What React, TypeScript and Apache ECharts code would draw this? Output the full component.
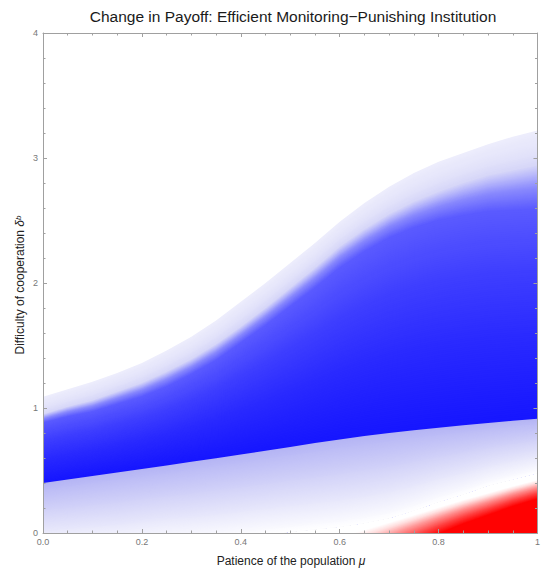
import React, { useEffect, useRef } from "react";
import * as echarts from "echarts";

// Sample positions along the patience axis (mu)
const MU = [0, 0.05, 0.1, 0.15, 0.2, 0.25, 0.3, 0.35, 0.4, 0.45, 0.5, 0.55, 0.6, 0.65, 0.7, 0.75, 0.8, 0.85, 0.9, 0.95, 1];
// Upper (sharp) edge of the blue region
const UPPER_EDGE = [1.09, 1.15, 1.21, 1.28, 1.36, 1.46, 1.57, 1.7, 1.85, 2.0, 2.16, 2.32, 2.49, 2.64, 2.77, 2.88, 2.97, 3.04, 3.11, 3.17, 3.22];
// End of the pale lavender fringe
const PALE_END = [0.95, 1.01, 1.06, 1.13, 1.2, 1.29, 1.39, 1.51, 1.65, 1.8, 1.96, 2.12, 2.29, 2.43, 2.55, 2.65, 2.73, 2.8, 2.86, 2.9, 2.94];
// Where the colour has reached medium blue below the fringe
const MID_BLUE = [0.88, 0.93, 0.97, 1.03, 1.09, 1.17, 1.27, 1.38, 1.52, 1.66, 1.81, 1.96, 2.12, 2.25, 2.36, 2.44, 2.5, 2.54, 2.57, 2.58, 2.59];
// Lower (sharp) edge of the saturated blue band
const DARK_EDGE = [0.4, 0.428, 0.456, 0.484, 0.512, 0.541, 0.57, 0.599, 0.628, 0.658, 0.689, 0.72, 0.749, 0.776, 0.8, 0.822, 0.843, 0.862, 0.88, 0.898, 0.915];
// Where the light blue below the band has faded to white
const FADE_END = [-0.15, -0.14, -0.13, -0.12, -0.1, -0.08, -0.07, -0.05, -0.03, -0.01, 0.01, 0.03, 0.05, 0.08, 0.12, 0.18, 0.25, 0.31, 0.38, 0.43, 0.48];
// Negative (red) region
const RED_MU = [0.55, 0.6, 0.65, 0.7, 0.75, 0.8, 0.85, 0.9, 0.95, 1];
const RED_EDGE = [-0.08, -0.03, 0.025, 0.085, 0.145, 0.205, 0.265, 0.32, 0.375, 0.425];
const RED_FULL = [-0.45, -0.36, -0.28, -0.19, -0.1, -0.01, 0.07, 0.14, 0.21, 0.27];

const X_TICKS = [0, 0.2, 0.4, 0.6, 0.8, 1];
const X_TICK_LABELS = ["0.0", "0.2", "0.4", "0.6", "0.8", "1"];
const Y_TICKS = [0, 1, 2, 3, 4];
const Y_TICK_LABELS = ["0", "1", "2", "3", "4"];

type Stop = [number, string];
const PALE_STOPS: Stop[] = [[0, "#ededfc"], [0.6, "#e3e3fa"], [1, "#d6d6f8"]];
const TRANS_STOPS: Stop[] = [[0, "#d4d4f8"], [0.2, "#b8b8fb"], [0.5, "#8a8afd"], [1, "#5a5aff"]];
const BAND_STOPS: Stop[] = [[0, "#5a5aff"], [0.3, "#3e3eff"], [0.6, "#2a2aff"], [1, "#1616ff"]];
const FADE_STOPS: Stop[] = [[0, "#b4b4f4"], [0.1, "#bcbcf6"], [0.4, "#d2d2f8"], [0.7, "#e8e8fb"], [0.9, "#f6f6fe"], [1, "#ffffff"]];
const RED_STOPS: Stop[] = [[0, "#ffffff"], [0.15, "#ffdede"], [0.4, "#ff8e8e"], [0.7, "#ff4040"], [1, "#ff0000"]];

const FONT = "'Liberation Sans', Arial, Helvetica, sans-serif";
const FRAME = "#a0a0a0";

function hexToRgb(h: string): number[] {
  const v = parseInt(h.slice(1), 16);
  return [(v >> 16) & 255, (v >> 8) & 255, v & 255];
}
function sample(stops: Stop[], t: number): string {
  if (t <= stops[0][0]) return stops[0][1];
  for (let i = 1; i < stops.length; i++) {
    if (t <= stops[i][0]) {
      const [t0, c0] = stops[i - 1];
      const [t1, c1] = stops[i];
      const f = (t - t0) / (t1 - t0);
      const a = hexToRgb(c0), b = hexToRgb(c1);
      const r = a.map((v, k) => Math.round(v + (b[k] - v) * f));
      return `rgb(${r[0]},${r[1]},${r[2]})`;
    }
  }
  return stops[stops.length - 1][1];
}

type Layer = { poly: number[][]; color: string };

function zoneLayers(xs: number[], a: number[], b: number[], floor: number[], n: number, stops: Stop[]): Layer[] {
  const out: Layer[] = [];
  for (let k = 0; k < n; k++) {
    const t = k / n;
    const top = xs.map((x, i) => [x, a[i] + t * (b[i] - a[i])]);
    const bottom = xs.map((x, i) => [x, floor[i]]).reverse();
    out.push({ poly: top.concat(bottom), color: sample(stops, (k + 0.5) / n) });
  }
  return out;
}

function buildLayers(): Layer[] {
  const below = DARK_EDGE.map((v) => v - 0.02);
  return [
    ...zoneLayers(MU, UPPER_EDGE, PALE_END, below, 20, PALE_STOPS),
    ...zoneLayers(MU, PALE_END, MID_BLUE, below, 40, TRANS_STOPS),
    ...zoneLayers(MU, MID_BLUE, DARK_EDGE, below, 100, BAND_STOPS),
    ...zoneLayers(MU, DARK_EDGE, FADE_END, FADE_END, 70, FADE_STOPS),
    ...zoneLayers(RED_MU, RED_EDGE, RED_FULL, RED_MU.map(() => -1), 60, RED_STOPS),
  ];
}

export default function App() {
  const ref = useRef<HTMLDivElement>(null);
  useEffect(() => {
    if (!ref.current) return;
    const chart = echarts.init(ref.current, undefined, { renderer: "svg" });
    const layers = buildLayers();
    const axisCommon = {
      type: "value" as const,
      axisLine: { show: true, onZero: false, lineStyle: { color: FRAME, width: 1 } },
      axisTick: { show: true, inside: true, length: 4, lineStyle: { color: FRAME } },
      splitLine: { show: false },
      z: 10,
    };
    chart.setOption({
      animation: false,
      backgroundColor: "#ffffff",
      grid: { left: 43, right: 1, top: 33, bottom: 36, containLabel: false },
      xAxis: [
        {
          ...axisCommon,
          position: "bottom",
          min: 0,
          max: 1,
          interval: 0.2,
          minorTick: { show: true, splitNumber: 4, length: 2.5, lineStyle: { color: FRAME } },
          axisLabel: {
            color: "#777777",
            fontSize: 9,
            fontFamily: FONT,
            margin: 4,
            formatter: (v: number) => {
              const i = X_TICKS.findIndex((t) => Math.abs(t - v) < 1e-6);
              return i >= 0 ? X_TICK_LABELS[i] : "";
            },
          },
        },
        {
          ...axisCommon,
          position: "top",
          min: 0,
          max: 1,
          interval: 0.2,
          minorTick: { show: true, splitNumber: 4, length: 2.5, lineStyle: { color: FRAME } },
          axisLabel: { show: false },
        },
      ],
      yAxis: [
        {
          ...axisCommon,
          position: "left",
          min: 0,
          max: 4,
          interval: 1,
          minorTick: { show: true, splitNumber: 5, length: 2.5, lineStyle: { color: FRAME } },
          axisLabel: {
            color: "#777777",
            fontSize: 9,
            fontFamily: FONT,
            margin: 5,
            formatter: (v: number) => {
              const i = Y_TICKS.findIndex((t) => Math.abs(t - v) < 1e-6);
              return i >= 0 ? Y_TICK_LABELS[i] : "";
            },
          },
        },
        {
          ...axisCommon,
          position: "right",
          min: 0,
          max: 4,
          interval: 1,
          minorTick: { show: true, splitNumber: 5, length: 2.5, lineStyle: { color: FRAME } },
          axisLabel: { show: false },
        },
      ],
      series: [
        {
          type: "custom",
          clip: true,
          z: 1,
          xAxisIndex: 0,
          yAxisIndex: 0,
          data: layers.map(() => [0, 0]),
          renderItem: (params: any, api: any) => {
            const layer = layers[params.dataIndex];
            const pts = layer.poly.map((p) => api.coord(p));
            return {
              type: "polygon",
              shape: { points: pts },
              style: { fill: layer.color, stroke: null },
            };
          },
        },
      ],
      graphic: [
        {
          type: "text",
          x: 293,
          y: 8,
          style: {
            text: "Change in Payoff: Efficient Monitoring\u2212Punishing Institution",
            fill: "#1a1a1a",
            fontSize: 15.5,
            fontFamily: FONT,
            textAlign: "center",
            textVerticalAlign: "top",
          },
        },
        {
          type: "text",
          x: 291,
          y: 561,
          style: {
            text: "{a|Patience of the population }{i|\u03bc}",
            textAlign: "center",
            textVerticalAlign: "middle",
            rich: {
              a: { fontSize: 12, fontFamily: FONT, fill: "#222222" },
              i: { fontSize: 12, fontFamily: FONT, fontStyle: "italic", fill: "#222222" },
            },
          },
        },
        {
          type: "text",
          x: 20,
          y: 285,
          rotation: Math.PI / 2,
          style: {
            text: "{a|Difficulty of cooperation }{i|\u03b4}{s|b}",
            textAlign: "center",
            textVerticalAlign: "middle",
            rich: {
              a: { fontSize: 12, fontFamily: FONT, fill: "#222222" },
              i: { fontSize: 12, fontFamily: FONT, fontStyle: "italic", fill: "#222222" },
              s: { fontSize: 8, fontFamily: FONT, fontStyle: "italic", fill: "#222222", verticalAlign: "top" },
            },
          },
        },
      ],
    });
    return () => chart.dispose();
  }, []);
  return <div ref={ref} style={{ position: "fixed", left: 0, top: 0, width: 543, height: 569 }} />;
}
